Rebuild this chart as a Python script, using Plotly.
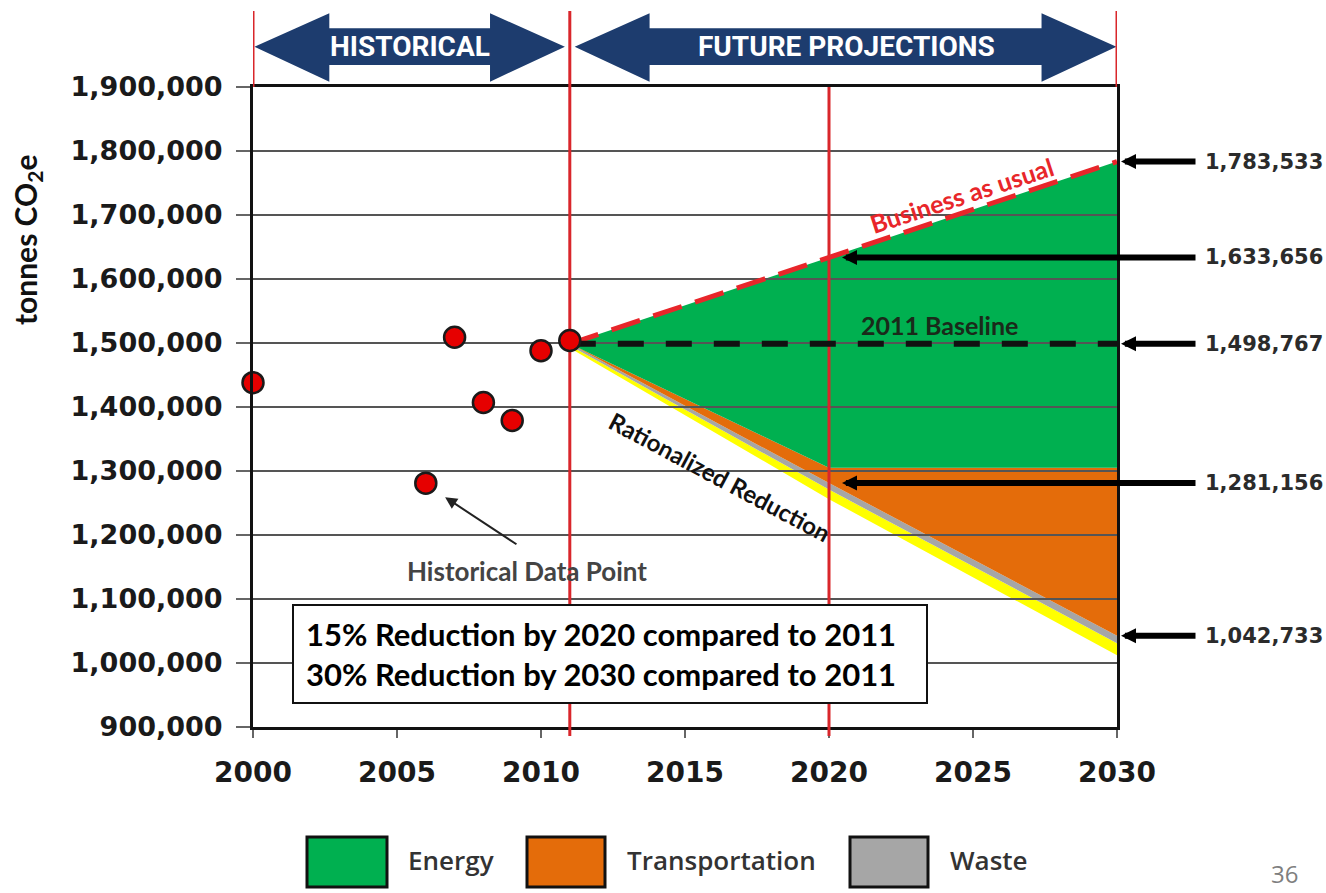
import plotly.graph_objects as go

# ---------------- data (tonnes CO2e) ----------------
hist_years = [2000, 2006, 2007, 2008, 2009, 2010, 2011]
hist_emissions = [1438000, 1281000, 1509000, 1407000, 1379000, 1488000, 1504000]

proj_years = [2011, 2020, 2030]
business_as_usual = [1498767, 1633656, 1783533]
baseline_2011 = 1498767
energy_floor = [1498767, 1305000, 1305000]        # lower edge of the energy wedge
reduction_path = [1498767, 1281156, 1042733]      # rationalized reduction (transportation floor)
waste_floor = [1496000, 1271000, 1031000]
edge_floor = [1492000, 1256000, 1012000]          # yellow edge under the reduction path

callout_years = [2030, 2020, 2030, 2020, 2030]
callout_values = [1783533, 1633656, 1498767, 1281156, 1042733]

x_ticks = [2000, 2005, 2010, 2015, 2020, 2025, 2030]
y_ticks = [900000, 1000000, 1100000, 1200000, 1300000, 1400000,
           1500000, 1600000, 1700000, 1800000, 1900000]

legend_labels = ["Energy", "Transportation", "Waste"]

# ---------------- styling ----------------
START, SPLIT, TARGET, END = 2000, 2011, 2020, 2030
GREEN, ORANGE, GREY, YELLOW = "#00b050", "#e46c0a", "#a6a6a6", "#ffff00"
RED, NAVY = "#d9262b", "#1d3c6e"
AXIS_FONT = "DejaVu Sans"
TEXT_FONT = "Lato"
BANNER_FONT = "Liberation Sans Narrow, Roboto, sans-serif"

W, H = 1326, 893
PL, PR, PT, PB = 253, 1117, 87, 727  # plot area in pixels


def px_x(p):
    return (p - PL) / (PR - PL)


def px_y(p):
    return (PB - p) / (PB - PT)


def year_px(yr):
    return PL + (yr - START) / (END - START) * (PR - PL)


def band(top, bottom):
    return proj_years + proj_years[::-1], top + bottom[::-1]


fig = go.Figure()

# stacked wedges of the projection
for top, bottom, color in [
    (waste_floor, edge_floor, YELLOW),
    (reduction_path, waste_floor, GREY),
    (energy_floor, reduction_path, ORANGE),
    (business_as_usual, energy_floor, GREEN),
]:
    xs, ys = band(top, bottom)
    fig.add_trace(go.Scatter(x=xs, y=ys, fill="toself", fillcolor=color,
                             mode="lines", line=dict(width=0),
                             hoverinfo="skip", showlegend=False))

# horizontal grid drawn over the wedges
gx, gy = [], []
for v in y_ticks[1:-1]:
    gx += [START, END, None]
    gy += [v, v, None]
fig.add_trace(go.Scatter(x=gx, y=gy, mode="lines",
                         line=dict(color="#555555", width=2),
                         hoverinfo="skip", showlegend=False))

# period boundary lines inside the plot
fig.add_trace(go.Scatter(x=[SPLIT, SPLIT, None, TARGET, TARGET],
                         y=[y_ticks[0], y_ticks[-1], None, y_ticks[0], y_ticks[-1]],
                         mode="lines", line=dict(color=RED, width=3),
                         hoverinfo="skip", showlegend=False))

# business as usual
fig.add_trace(go.Scatter(x=proj_years, y=business_as_usual, mode="lines",
                         line=dict(color="#e8262a", width=5, dash="30px,14px"),
                         hoverinfo="skip", showlegend=False))

# 2011 baseline
fig.add_trace(go.Scatter(x=[SPLIT, END], y=[baseline_2011, baseline_2011], mode="lines",
                         line=dict(color="#111111", width=6, dash="26px,22px"),
                         hoverinfo="skip", showlegend=False))

# historical data points
fig.add_trace(go.Scatter(x=hist_years, y=hist_emissions, mode="markers",
                         marker=dict(size=21, color="#e60000",
                                     line=dict(color="#1a1a1a", width=2.5)),
                         cliponaxis=False, showlegend=False))

shapes = []


def double_arrow(x0, x1, head=2.6):
    tip, top, bot, s_top, s_bot = 1.063, 1.1152, 1.0083, 1.0917, 1.0344
    path = (f"M{x0},{tip} L{x0 + head},{top} L{x0 + head},{s_top} "
            f"L{x1 - head},{s_top} L{x1 - head},{top} L{x1},{tip} "
            f"L{x1 - head},{bot} L{x1 - head},{s_bot} L{x0 + head},{s_bot} "
            f"L{x0 + head},{bot} Z")
    return dict(type="path", path=path, xref="x", yref="paper",
                fillcolor=NAVY, line=dict(width=0), layer="above")


shapes.append(double_arrow(START + 0.05, SPLIT - 0.17))
shapes.append(double_arrow(SPLIT + 0.17, END - 0.02))

# red boundary marks outside the frame
for xv in [START, SPLIT, END]:
    shapes.append(dict(type="line", xref="x", yref="paper", x0=xv, x1=xv,
                       y0=1.0, y1=px_y(11), line=dict(color=RED, width=3)))
for xv in [SPLIT, TARGET]:
    shapes.append(dict(type="line", xref="x", yref="paper", x0=xv, x1=xv,
                       y0=px_y(736), y1=0, line=dict(color=RED, width=3)))

# legend swatches
legend_boxes = [(307, 387, GREEN), (527, 605, ORANGE), (850, 928, GREY)]
legend_text_x = [406, 625, 948]
for (a, b, c) in legend_boxes:
    shapes.append(dict(type="rect", xref="paper", yref="paper",
                       x0=px_x(a), x1=px_x(b), y0=px_y(887), y1=px_y(837),
                       fillcolor=c, line=dict(color="#111111", width=3)))

annotations = []

# banner captions
for label, cx in [("HISTORICAL", (START + SPLIT) / 2 - 0.05),
                  ("FUTURE PROJECTIONS", (SPLIT + END) / 2 + 0.1)]:
    annotations.append(dict(x=cx, y=1.063, xref="x", yref="paper",
                            xanchor="center", yanchor="middle",
                            text=label, showarrow=False,
                            font=dict(family=BANNER_FONT, size=28, color="white",
                                      weight="bold")))

# y axis title
annotations.append(dict(x=px_x(27), y=px_y(240), xref="paper", yref="paper",
                        xanchor="center", yanchor="middle",
                        text="tonnes CO<sub>2</sub>e", textangle=-90, showarrow=False,
                        font=dict(family=TEXT_FONT, size=30, color="#111111", weight="bold")))

# line labels
annotations.append(dict(x=2024.6, y=1732000, xref="x", yref="y",
                        text="Business as usual", textangle=-18, showarrow=False,
                        font=dict(family=TEXT_FONT, size=25, color="#e8262a", weight="bold")))
annotations.append(dict(x=2023.85, y=baseline_2011, yshift=19, xref="x", yref="y",
                        text="2011 Baseline", showarrow=False,
                        font=dict(family=TEXT_FONT, size=25, color="#1a2a1a", weight="bold")))
annotations.append(dict(x=2016.2, y=1292000, xref="x", yref="y",
                        text="Rationalized Reduction", textangle=28, showarrow=False,
                        font=dict(family=TEXT_FONT, size=24, color="#111111", weight="bold")))

# historical data point callout
annotations.append(dict(x=2009.5, y=1143000, xref="x", yref="y",
                        text="Historical Data Point", showarrow=False,
                        font=dict(family=TEXT_FONT, size=26, color="#444444", weight="bold")))
annotations.append(dict(x=2006.67, y=1259000, ax=2009.2, ay=1184000,
                        xref="x", yref="y", axref="x", ayref="y", text="",
                        showarrow=True, arrowhead=2, arrowsize=1.2, arrowwidth=2,
                        arrowcolor="#222222"))

# reduction targets box
annotations.append(dict(x=2012.4, y=1014800, xref="x", yref="y",
                        text="15% Reduction by 2020 compared to 2011<br>"
                             "30% Reduction by 2030 compared to 2011",
                        showarrow=False, align="left", width=608, height=72,
                        bgcolor="white", bordercolor="#111111", borderwidth=2, borderpad=12,
                        font=dict(family=TEXT_FONT, size=31, color="#000000", weight="bold")))

# value callouts on the right
TAIL_PX, LABEL_PX = 1197, 1203
for yr, val in zip(callout_years, callout_values):
    head_px = year_px(yr) + (4 if yr == END else 13)
    annotations.append(dict(x=px_x(head_px), y=val, xref="paper", yref="y",
                            ax=TAIL_PX - head_px, ay=0, text="",
                            showarrow=True, arrowhead=2, arrowsize=0.5, arrowwidth=6,
                            arrowcolor="#000000"))
    annotations.append(dict(x=px_x(LABEL_PX), y=val, xref="paper", yref="y",
                            text=f"{val:,}", showarrow=False,
                            xanchor="left", yanchor="middle",
                            font=dict(family=AXIS_FONT, size=21, color="#2b2b2b",
                                      weight="bold")))

# legend labels
for label, tx in zip(legend_labels, legend_text_x):
    annotations.append(dict(x=px_x(tx), y=px_y(860), xref="paper", yref="paper",
                            text=label, showarrow=False,
                            xanchor="left", yanchor="middle",
                            font=dict(family="Open Sans", size=26, color="#333333",
                                      weight=600)))

# page number
annotations.append(dict(x=px_x(1284), y=px_y(873), xref="paper", yref="paper",
                        xanchor="center", yanchor="middle",
                        text="36", showarrow=False,
                        font=dict(family="Open Sans", size=24, color="#7f7f7f")))

fig.update_layout(
    width=W, height=H,
    margin=dict(l=PL, r=W - PR, t=PT, b=H - PB, pad=0),
    paper_bgcolor="white", plot_bgcolor="white",
    shapes=shapes, annotations=annotations, showlegend=False,
    xaxis=dict(range=[START, END], tickvals=x_ticks, ticks="outside", ticklen=8,
               tickwidth=2, tickcolor="#666666", showline=True, linecolor="#111111",
               linewidth=3, mirror=True, showgrid=False, zeroline=False,
               ticklabelstandoff=10,
               tickfont=dict(family=AXIS_FONT, size=28, color="#1a1a1a", weight="bold")),
    yaxis=dict(range=[y_ticks[0], y_ticks[-1]], tickvals=y_ticks, tickformat=",d",
               ticks="outside", ticklen=14, tickwidth=2, tickcolor="#666666",
               showline=True, linecolor="#111111", linewidth=3, mirror=True,
               showgrid=False, zeroline=False, ticklabelstandoff=8,
               tickfont=dict(family=AXIS_FONT, size=27, color="#1a1a1a", weight="bold")),
)

fig.write_html("out.html")
